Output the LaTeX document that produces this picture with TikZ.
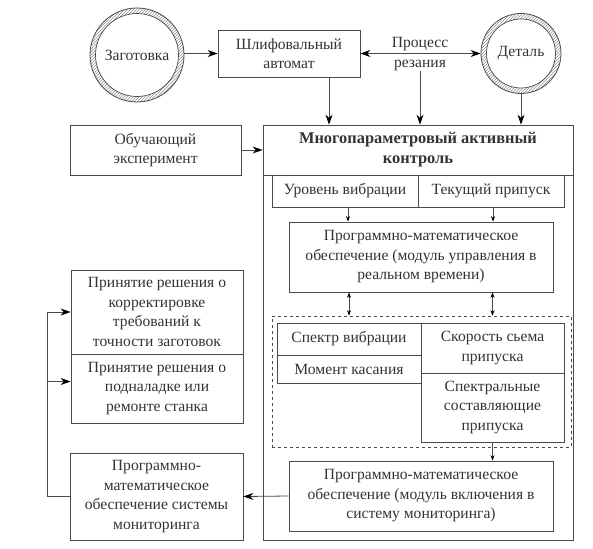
\documentclass[tikz,border=0pt]{standalone}
\usepackage{fontspec}
\setmainfont{Liberation Serif}
\usetikzlibrary{arrows.meta,patterns}
\definecolor{ln}{HTML}{4A4A4A}
\definecolor{tx}{HTML}{333333}
\begin{document}
\begin{tikzpicture}[x=1pt,y=-1pt,
  font=\fontsize{15.6}{19.5}\selectfont,
  every node/.style={text=tx},
  box/.style={draw=ln, line width=0.8pt, align=center, inner sep=0pt},
  ring/.style={draw=ln, line width=0.8pt, circle, align=center, inner sep=0pt},
  bigtip/.tip={Stealth[length=10pt,width=7pt,color=black]},
  smltip/.tip={Stealth[length=5.5pt,width=4pt,color=black]},
  big/.style={draw=ln, line width=0.8pt, -bigtip},
  bigd/.style={draw=ln, line width=0.8pt, bigtip-bigtip},
  sml/.style={draw=ln, line width=0.6pt, -smltip},
  smld/.style={draw=ln, line width=0.6pt, smltip-smltip},
  hatch/.style={pattern=north east lines, pattern color=gray!85, even odd rule}
]
\useasboundingbox (0,0) rectangle (593,548);

% circles with hatched rings
\path[hatch] (137,55) circle[radius=47pt] (137,55) circle[radius=41.5pt];
\path[hatch] (521,53.5) circle[radius=40pt] (521,53.5) circle[radius=34.5pt];
\node[ring, minimum size=94pt] (zag) at (137,55) {Заготовка};
\node[ring, minimum size=80pt] (det) at (521,53.5) {Деталь};
\draw[ln, line width=0.7pt] (zag.center) circle[radius=41.5pt];
\draw[ln, line width=0.7pt] (det.center) circle[radius=34.5pt];

% top boxes
\node[box, minimum width=142pt, minimum height=47pt] (shl) at (289,53.5) {Шлифовальный\\автомат};
\node[align=center, inner sep=0pt] (proc) at (420,54) {Процесс\\резания};

% main control block
\node[box, minimum width=310pt, minimum height=415pt] (outer) at (418,332.5) {};
\node[box, minimum width=310pt, minimum height=50pt, font=\fontsize{16.4}{20}\selectfont\bfseries] (main) at (418,150) {Многопараметровый активный\\контроль};
\node[box, minimum width=146pt, minimum height=32pt] (urv) at (345,191) {Уровень вибрации};
\node[box, minimum width=146pt, minimum height=32pt] (tek) at (491,191) {Текущий припуск};
\node[box, minimum width=264pt, minimum height=70pt] (rt) at (421,257) {Программно-математическое\\обеспечение (модуль управления в\\реальном времени)};
\node[draw=ln, dashed, line width=0.8pt, minimum width=299pt, minimum height=131pt, inner sep=0pt] (dash) at (421.5,381.5) {};
\node[box, minimum width=144pt, minimum height=32pt] (spv) at (349,339) {Спектр вибрации};
\node[box, minimum width=144pt, minimum height=28pt] (mom) at (349,369) {Момент касания};
\node[box, minimum width=143pt, minimum height=50pt] (sko) at (492.5,348) {Скорость сьема\\припуска};
\node[box, minimum width=143pt, minimum height=69pt] (spc) at (492.5,407.5) {Спектральные\\составляющие\\припуска};
\node[box, minimum width=264pt, minimum height=70pt] (mon) at (421,496) {Программно-математическое\\обеспечение (модуль включения в\\систему мониторинга)};

% left column
\node[box, minimum width=171pt, minimum height=50pt] (obu) at (155.5,150) {Обучающий\\эксперимент};
\node[box, minimum width=172pt, minimum height=84pt] (pr1) at (157,312) {Принятие решения о\\корректировке\\требований к\\точности заготовок};
\node[box, minimum width=172pt, minimum height=69pt] (pr2) at (157,388.5) {Принятие решения о\\подналадке или\\ремонте станка};
\node[box, minimum width=173pt, minimum height=87pt] (msys) at (156.5,496.5) {Программно-\\математическое\\обеспечение системы\\мониторинга};

% connectors top
\draw[big] (zag.east |- shl.west) -- (shl.west);
\draw[bigd] (shl.east) -- (det.west);
\draw[big] ([xshift=40pt]shl.south) -- ([xshift=40pt]shl.south |- main.north);
\draw[big] (proc.south) -- (proc.south |- main.north);
\draw[big] (det.south) -- (det.south |- main.north);
\draw[big] (obu.east) -- (obu.east -| main.west);

% inner connectors
\draw[sml] ([xshift=3pt]urv.south) -- ([xshift=3pt]urv.south |- rt.north);
\draw[sml] ([xshift=2pt]tek.south) -- ([xshift=2pt]tek.south |- rt.north);
\draw[smld] (spv.north |- rt.south) -- (spv.north |- dash.north);
\draw[smld] (sko.north |- rt.south) -- (sko.north |- dash.north);
\draw[sml] (spc.south) -- (spc.south |- mon.north);

% bottom / feedback
\draw[big] (mon.west) -- (msys.east);
\coordinate (fb) at ([xshift=-22pt]msys.west);
\coordinate (pr2in) at ([yshift=7pt]pr2.west);
\draw[big] (msys.west) -- (fb) |- (pr1.west);
\draw[big] (fb |- pr2in) -- (pr2in);
\end{tikzpicture}
\end{document}
